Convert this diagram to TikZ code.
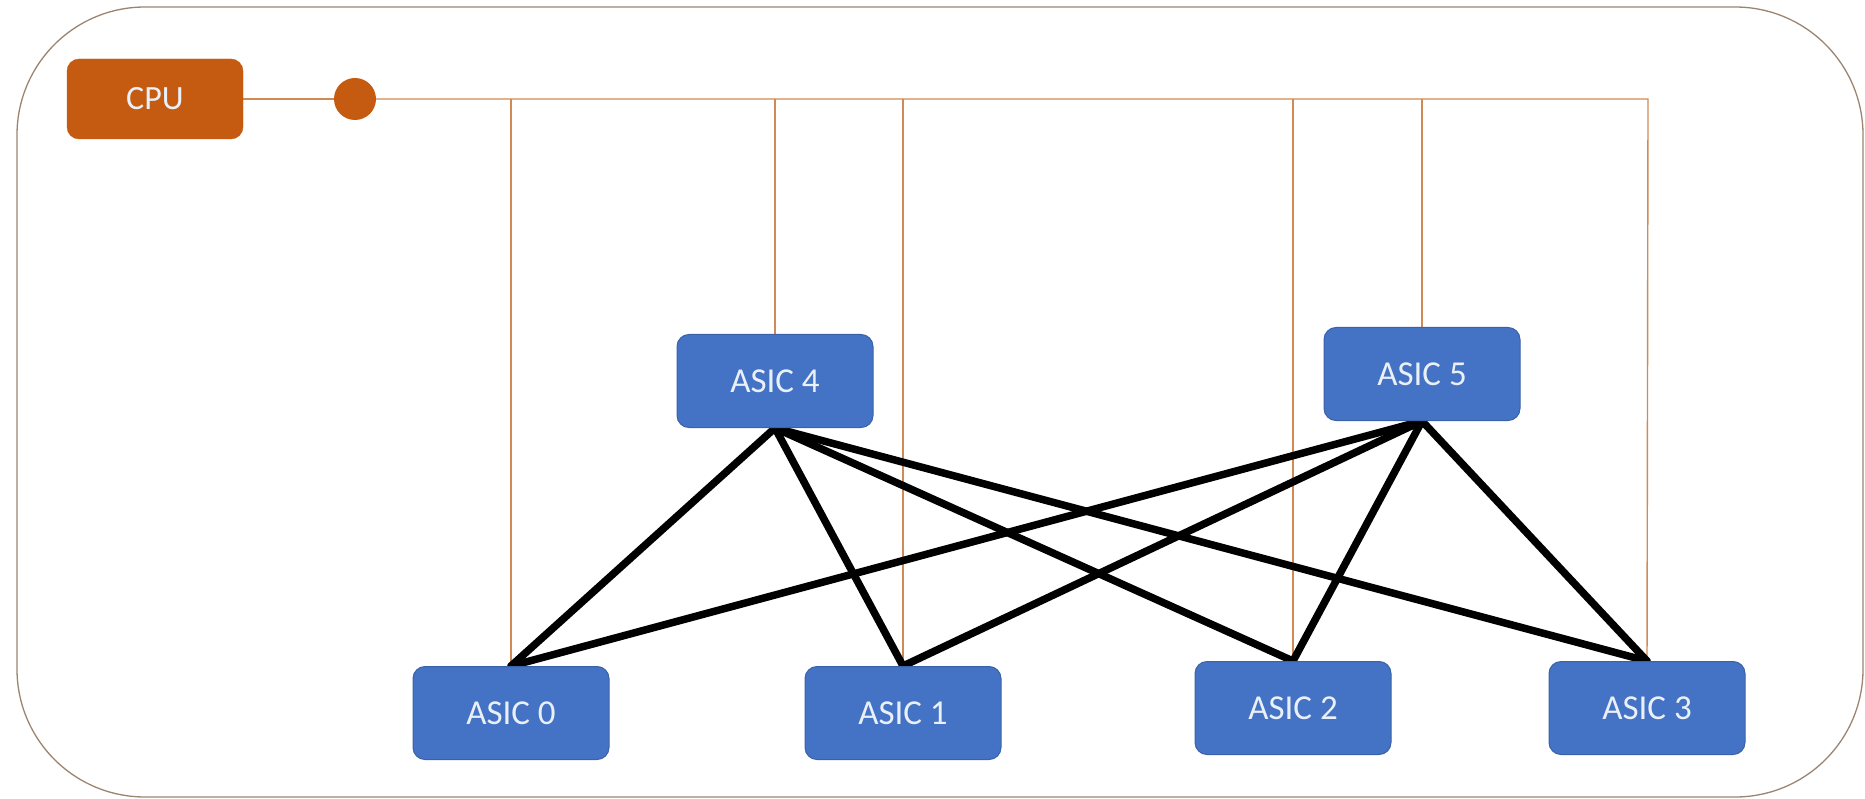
\documentclass[tikz,border=0pt]{standalone}
\usepackage{fontspec}
\setmainfont{Carlito}
\definecolor{asicblue}{HTML}{4472C4}
\definecolor{asicedge}{HTML}{3A62A8}
\definecolor{cpuorange}{HTML}{C55A11}
\definecolor{busorange}{HTML}{D08A55}
\definecolor{frameclr}{HTML}{9A8470}
\definecolor{txtlight}{HTML}{EAF0F8}
\pgfdeclarelayer{background}
\pgfsetlayers{background,main}
\begin{document}
\begin{tikzpicture}[x=1pt,y=-1pt,
  asic/.style={draw=asicedge,line width=1pt,fill=asicblue,rounded corners=12pt,
    minimum width=196pt,minimum height=93pt,inner sep=0pt,
    text=txtlight,font=\fontsize{35}{40}\selectfont},
  cpubox/.style={draw=cpuorange,fill=cpuorange,rounded corners=12pt,
    minimum width=176pt,minimum height=80pt,inner sep=0pt,
    text=txtlight,font=\fontsize{34}{38}\selectfont},
  busdot/.style={circle,fill=cpuorange,minimum size=42pt,inner sep=0pt},
  busline/.style={draw=busorange,line width=1.4pt},
  link/.style={draw=black,line width=7.5pt,line cap=round}]
\useasboundingbox (0,0) rectangle (1865,799);
\draw[frameclr,line width=1.3pt,rounded corners=128pt] (17,7) rectangle (1863,797);

\node[cpubox] (cpu) at (155,99) {CPU};
\node[busdot] (dot) at (355,99) {};
\coordinate (busend) at (1648,99);

\node[asic] (a4) at (775,381) {ASIC 4};
\node[asic] (a5) at (1422,374) {ASIC 5};
\node[asic] (a0) at (511,713) {ASIC 0};
\node[asic] (a1) at (903,713) {ASIC 1};
\node[asic] (a2) at (1293,708) {ASIC 2};
\node[asic] (a3) at (1647,708) {ASIC 3};

\begin{pgfonlayer}{background}
\draw[busline] (cpu.east) -- (dot);
\draw[busline] (dot) -- (busend) -- (a3.north);
\foreach \n in {a0,a4,a1,a2,a5}{
  \draw[busline] (\n.north) -- (\n.north |- busend);
}
\foreach \s in {a4,a5}{
  \foreach \t in {a0,a1,a2,a3}{
    \draw[link] (\s.south) -- (\t.north);
  }
}
\end{pgfonlayer}
\end{tikzpicture}
\end{document}
